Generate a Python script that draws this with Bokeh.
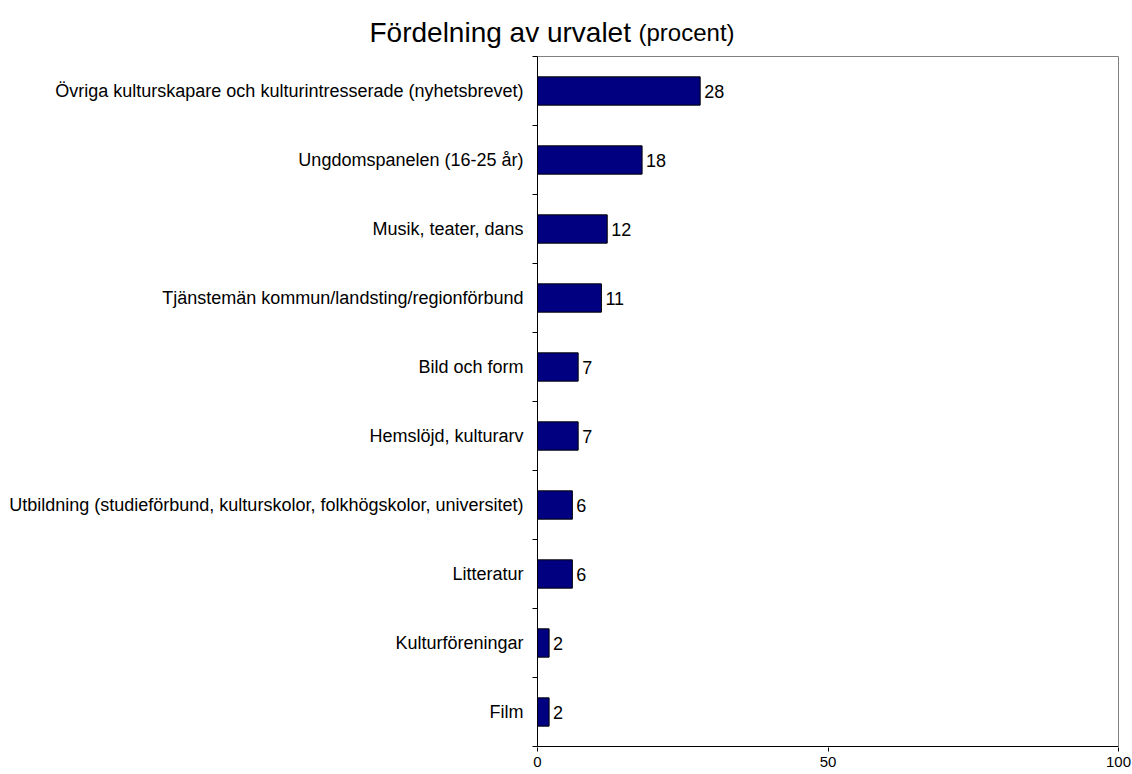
import math
from bokeh.plotting import figure
from bokeh.models import FixedTicker, Range1d, ColumnDataSource
from bokeh.embed import file_html
from bokeh.resources import INLINE
from bokeh.core.properties import value

# Data (bottom to top)
categories = [
    "Film",
    "Kulturföreningar",
    "Litteratur",
    "Utbildning (studieförbund, kulturskolor, folkhögskolor, universitet)",
    "Hemslöjd, kulturarv",
    "Bild och form",
    "Tjänstemän kommun/landsting/regionförbund",
    "Musik, teater, dans",
    "Ungdomspanelen (16-25 år)",
    "Övriga kulturskapare och kulturintresserade (nyhetsbrevet)",
]
values = [2, 2, 6, 6, 7, 7, 11, 12, 18, 28]
x_ticks = [0, 50, 100]
x_max = 100
title_main = "Fördelning av urvalet"
title_sub = "(procent)"

FONT = "Liberation Sans"
W, H = 1132, 774
n = len(categories)
positions = [i + 0.5 for i in range(n)]
boundaries = list(range(n + 1))

# pixel layout of the plot box (page pixels)
PL, PR, PT, PB = 537, 1118, 56, 746
FB = PB + 1                               # frame bottom, 1px below the box so the axis line is not clipped
sx = (PR - PL) / x_max
sy = (PB - PT) / n

x_range = Range1d(-PL / sx, (W - PL) / sx)
y_range = Range1d(-(FB - PB) / sy, PB / sy)


def px_x(px):
    return (px - PL) / sx


def px_y(py):
    return (PB - py) / sy


src = ColumnDataSource(dict(
    y=positions,
    v=values,
    lbl=[str(v) for v in values],
    cat=categories,
))

p = figure(
    width=W, height=H,
    output_backend="svg", toolbar_location=None,
    x_range=x_range, y_range=y_range,
    min_border_left=0, min_border_right=0,
    min_border_top=0, min_border_bottom=H - FB,
)
p.title.visible = False
p.background_fill_color = "white"
p.border_fill_color = "white"
p.outline_line_color = None
p.xgrid.visible = False
p.ygrid.visible = False
p.yaxis.visible = False

# plot box: grey top and right edges, black left and bottom axis lines
p.segment(x0=[0, x_max], y0=[n, 0], x1=[x_max, x_max], y1=[n, n],
          line_color="#808080", line_width=1)
p.segment(x0=[0, 0], y0=[0, 0], x1=[0, x_max], y1=[n, 0],
          line_color="black", line_width=1)

# category ticks between bars
p.ray(x=[0] * len(boundaries), y=boundaries, length=5, length_units="screen",
      angle=math.pi, line_color="black", line_width=1)

# bars
p.hbar(y="y", left=0, right="v", height=0.41, source=src,
       fill_color="#000080", line_color="black", line_width=1)

# value labels
p.text(x="v", y="y", text="lbl", source=src, x_offset=4,
       text_baseline="middle", text_align="left",
       text_font=value(FONT), text_font_size="18px", text_color="black")

# category labels
p.text(x=0, y="y", text="cat", source=src, x_offset=-14,
       text_baseline="middle", text_align="right",
       text_font=value(FONT), text_font_size="18px", text_color="black")

# title (two sizes)
p.text(x=[px_x(369)], y=[px_y(32)], text=[title_main], text_font=value(FONT),
       text_font_size="28px", text_color="black",
       text_align="left", text_baseline="alphabetic")
p.text(x=[px_x(638)], y=[px_y(32)], text=[title_sub], text_font=value(FONT),
       text_font_size="24px", text_color="black",
       text_align="left", text_baseline="alphabetic")

xax = p.xaxis[0]
xax.ticker = FixedTicker(ticks=x_ticks)
xax.axis_line_color = None
xax.major_tick_out = 4
xax.major_tick_in = 0
xax.minor_tick_out = 0
xax.minor_tick_in = 0
xax.major_tick_line_color = "black"
xax.major_label_standoff = 5
xax.major_label_text_font = FONT
xax.major_label_text_font_size = "15px"
xax.major_label_text_color = "black"

open("out.html", "w").write(file_html(p, INLINE))
